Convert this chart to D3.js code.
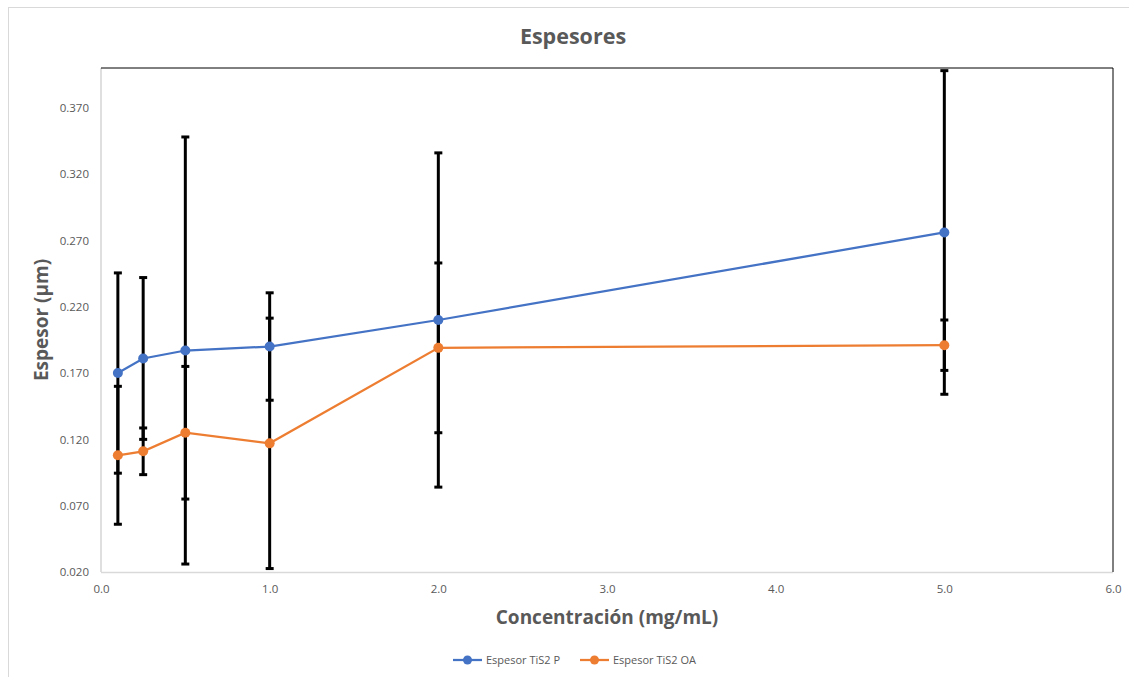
<!DOCTYPE html>
<html>
<head>
<meta charset="utf-8">
<script src="https://cdn.jsdelivr.net/npm/d3@7"></script>
<style>
  html, body { margin: 0; padding: 0; background: #fff; }
  svg { display: block; }
</style>
</head>
<body>
<svg id="chart" width="1129" height="677"></svg>
<script>
// ---- Data ----
const concentrations = [0.1, 0.25, 0.5, 1.0, 2.0, 5.0];
const seriesNames = ["Espesor TiS2 P", "Espesor TiS2 OA"];
const valuesP  = [0.170, 0.181, 0.187, 0.190, 0.210, 0.276];
const errorsP  = [0.0755, 0.061, 0.161, 0.0405, 0.126, 0.122];
const valuesOA = [0.108, 0.111, 0.125, 0.117, 0.189, 0.191];
const errorsOA = [0.052, 0.0176, 0.050, 0.0944, 0.064, 0.019];
const xTicks = [0, 1, 2, 3, 4, 5, 6];
const yTicks = [0.02, 0.07, 0.12, 0.17, 0.22, 0.27, 0.32, 0.37];
const seriesColors = ["#4472C4", "#ED7D31"];

const svg = d3.select("#chart");
const plot = { left: 101, top: 68, right: 1113, bottom: 572 };

// chart border (extends past the right and bottom edges of the picture)
svg.append("rect").attr("x", 8.5).attr("y", 7.5).attr("width", 1140).attr("height", 690)
  .attr("fill", "#fff").attr("stroke", "#d9d9d9").attr("stroke-width", 1);

const x = d3.scaleLinear().domain([0, 6]).range([plot.left, plot.right]);
const y = d3.scaleLinear().domain([0.02, 0.40]).range([plot.bottom, plot.top]);

// axes
const xAxis = d3.axisBottom(x).tickValues(xTicks).tickFormat(d3.format(".1f")).tickSize(0).tickPadding(13);
const yAxis = d3.axisLeft(y).tickValues(yTicks).tickFormat(d3.format(".3f")).tickSize(0).tickPadding(12);

const gx = svg.append("g").attr("transform", `translate(0,${plot.bottom})`).call(xAxis);
const gy = svg.append("g").attr("transform", `translate(${plot.left},0)`).call(yAxis);
[gx, gy].forEach(g => {
  g.select(".domain").remove();
  g.selectAll("text").attr("fill", "#595959").style("font-family", "'Open Sans', sans-serif").style("font-size", "11.5px");
});

// plot frame
svg.append("line").attr("x1", plot.left).attr("x2", plot.left).attr("y1", plot.top).attr("y2", plot.bottom)
  .attr("stroke", "#bfbfbf").attr("stroke-width", 1);
svg.append("line").attr("x1", plot.left).attr("x2", plot.right).attr("y1", plot.bottom + 0.5).attr("y2", plot.bottom + 0.5)
  .attr("stroke", "#d9d9d9").attr("stroke-width", 1.5);
svg.append("line").attr("x1", plot.left).attr("x2", plot.right).attr("y1", plot.top).attr("y2", plot.top)
  .attr("stroke", "#000").attr("stroke-width", 1);
svg.append("line").attr("x1", plot.right).attr("x2", plot.right).attr("y1", plot.top).attr("y2", plot.bottom)
  .attr("stroke", "#000").attr("stroke-width", 1);

const series = [
  { name: seriesNames[0], values: valuesP, errors: errorsP, color: seriesColors[0] },
  { name: seriesNames[1], values: valuesOA, errors: errorsOA, color: seriesColors[1] }
];

// error bars
series.forEach(s => {
  const g = svg.append("g");
  concentrations.forEach((c, i) => {
    const lo = s.values[i] - s.errors[i], hi = s.values[i] + s.errors[i];
    g.append("line").attr("x1", x(c)).attr("x2", x(c)).attr("y1", y(hi)).attr("y2", y(lo))
      .attr("stroke", "#000").attr("stroke-width", 3);
    [lo, hi].forEach(v => {
      g.append("line").attr("x1", x(c) - 4).attr("x2", x(c) + 4).attr("y1", y(v)).attr("y2", y(v))
        .attr("stroke", "#000").attr("stroke-width", 3);
    });
  });
});

// lines and markers
const line = d3.line().x(d => x(d[0])).y(d => y(d[1]));
series.forEach(s => {
  const pts = concentrations.map((c, i) => [c, s.values[i]]);
  svg.append("path").datum(pts).attr("d", line).attr("fill", "none")
    .attr("stroke", s.color).attr("stroke-width", 2.25);
  svg.append("g").selectAll("circle").data(pts).join("circle")
    .attr("cx", d => x(d[0])).attr("cy", d => y(d[1])).attr("r", 5)
    .attr("fill", s.color);
});

// title
svg.append("text").attr("x", 573).attr("y", 44).attr("text-anchor", "middle")
  .attr("fill", "#595959").style("font-family", "'Open Sans', sans-serif").style("font-weight", "bold")
  .style("font-size", "21.5px").text("Espesores");

// axis titles
svg.append("text").attr("x", (plot.left + plot.right) / 2).attr("y", 624).attr("text-anchor", "middle")
  .attr("fill", "#595959").style("font-family", "'Open Sans', sans-serif").style("font-weight", "bold")
  .style("font-size", "19px").text("Concentración (mg/mL)");
svg.append("text").attr("transform", `translate(48,${(plot.top + plot.bottom) / 2}) rotate(-90)`).attr("text-anchor", "middle")
  .attr("fill", "#595959").style("font-family", "'Open Sans', sans-serif").style("font-weight", "bold")
  .style("font-size", "19px").text("Espesor (µm)");

// legend
const legendX = [453, 580];
series.forEach((s, i) => {
  const g = svg.append("g").attr("transform", `translate(${legendX[i]},660)`);
  g.append("line").attr("x1", 0).attr("x2", 29).attr("y1", 0).attr("y2", 0).attr("stroke", s.color).attr("stroke-width", 2.25);
  g.append("circle").attr("cx", 14.5).attr("cy", 0).attr("r", 4.5).attr("fill", s.color);
  g.append("text").attr("x", 33).attr("y", 4).attr("fill", "#595959")
    .style("font-family", "'Open Sans', sans-serif").style("font-size", "11px").text(s.name);
});
</script>
</body>
</html>
